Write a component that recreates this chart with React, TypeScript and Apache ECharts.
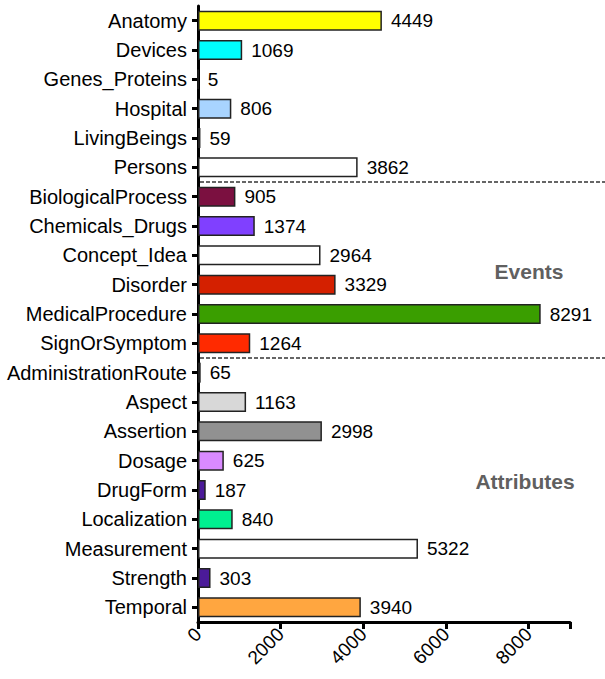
import React, { useEffect, useRef } from "react";
import * as echarts from "echarts";

const categories = [
  "Anatomy", "Devices", "Genes_Proteins", "Hospital", "LivingBeings", "Persons",
  "BiologicalProcess", "Chemicals_Drugs", "Concept_Idea", "Disorder", "MedicalProcedure", "SignOrSymptom",
  "AdministrationRoute", "Aspect", "Assertion", "Dosage", "DrugForm", "Localization", "Measurement", "Strength", "Temporal",
];
const values = [
  4449, 1069, 5, 806, 59, 3862,
  905, 1374, 2964, 3329, 8291, 1264,
  65, 1163, 2998, 625, 187, 840, 5322, 303, 3940,
];
const colors = [
  "#ffff00", "#00ffff", "#ffffff", "#a8d4ff", "#111111", "#ffffff",
  "#7b1040", "#8040ff", "#ffffff", "#d42000", "#3a9e00", "#ff2a00",
  "#111111", "#d8d8d8", "#919191", "#d98aff", "#4b1a99", "#00f090", "#ffffff", "#4b1a99", "#ffa640",
];
const xTicks = [0, 2000, 4000, 6000, 8000];
const groupLabels = ["Events", "Attributes"];
const separatorsAfter = ["Persons", "SignOrSymptom"];

export default function App() {
  const ref = useRef<HTMLDivElement>(null);
  useEffect(() => {
    if (!ref.current) return;
    const chart = echarts.init(ref.current, null, { renderer: "svg" });
    const font = "Liberation Sans, Arial, sans-serif";
    chart.setOption({
      animation: false,
      grid: { left: 198, right: 35, top: 6, bottom: 57, containLabel: false },
      xAxis: {
        type: "value",
        min: 0,
        max: 9000,
        interval: 2000,
        splitLine: { show: false },
        axisLine: { show: true, lineStyle: { color: "#000", width: 3 } },
        axisTick: { show: true, length: 7, lineStyle: { color: "#000", width: 3 } },
        axisLabel: {
          rotate: 45,
          fontSize: 19,
          color: "#000",
          fontFamily: font,
          margin: 9,
          formatter: (v: number) => (xTicks.includes(v) ? String(v) : ""),
        },
      },
      yAxis: {
        type: "category",
        data: categories,
        inverse: true,
        axisLine: { show: true, lineStyle: { color: "#000", width: 3 } },
        axisTick: { show: true, length: 6, alignWithLabel: true, lineStyle: { color: "#000", width: 3 } },
        axisLabel: { fontSize: 20, color: "#000", fontFamily: font, margin: 11 },
      },
      series: [
        {
          type: "bar",
          barWidth: 20,
          data: values.map((v, i) => ({
            value: v,
            itemStyle: { color: colors[i], borderColor: "#222", borderWidth: 1.5 },
          })),
          label: {
            show: true,
            position: "right",
            distance: 9,
            fontSize: 19,
            color: "#000",
            fontFamily: font,
          },
        },
      ],
    });
    const graphics: any[] = [];
    separatorsAfter.forEach((name) => {
      const idx = categories.indexOf(name);
      const y1 = chart.convertToPixel({ yAxisIndex: 0 }, categories[idx]) as number;
      const y2 = chart.convertToPixel({ yAxisIndex: 0 }, categories[idx + 1]) as number;
      const y = Math.round((y1 + y2) / 2);
      const x0 = chart.convertToPixel({ xAxisIndex: 0 }, 0) as number;
      graphics.push({
        type: "line",
        shape: { x1: x0 + 2, y1: y, x2: 605, y2: y },
        style: { stroke: "#666", lineWidth: 2, lineDash: [4, 2] },
      });
    });
    graphics.push({
      type: "text",
      x: 529,
      y: 271,
      style: { text: groupLabels[0], fontSize: 21, fontWeight: "bold", fill: "#606060", fontFamily: font, align: "center", verticalAlign: "middle" },
    });
    graphics.push({
      type: "text",
      x: 525,
      y: 481,
      style: { text: groupLabels[1], fontSize: 21, fontWeight: "bold", fill: "#606060", fontFamily: font, align: "center", verticalAlign: "middle" },
    });
    chart.setOption({ graphic: graphics });
    return () => chart.dispose();
  }, []);
  return <div ref={ref} style={{ width: 605, height: 679, position: "absolute", left: 0, top: 0 }} />;
}
